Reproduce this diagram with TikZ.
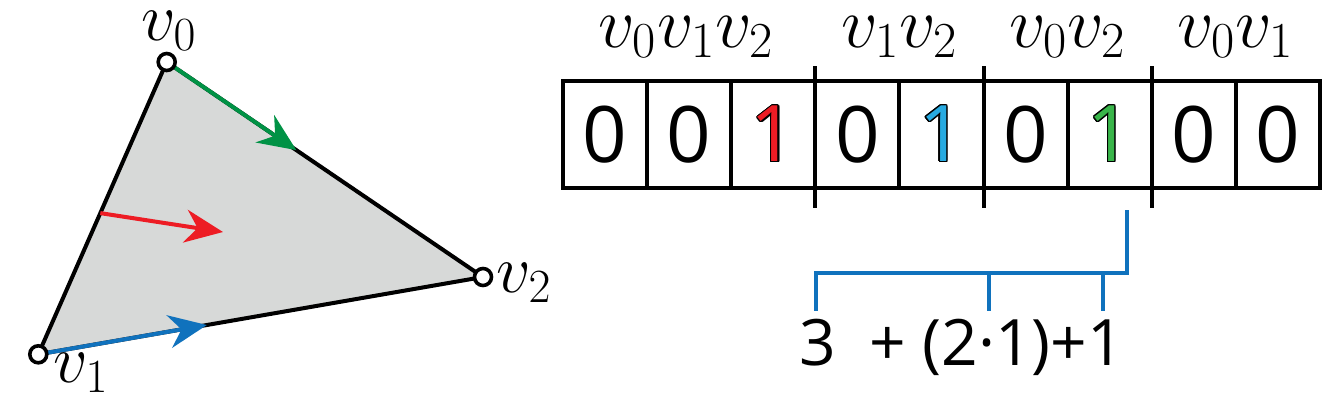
\RequirePackage{fix-cm}
\documentclass[tikz,border=0pt]{standalone}
\usepackage{fontspec}
\setsansfont{Open Sans}
\usepackage{contour}
\usetikzlibrary{arrows.meta, calc}

\definecolor{triGrey}{RGB}{215,217,216}
\definecolor{arrGreen}{RGB}{0,146,69}
\definecolor{arrBlue}{RGB}{16,114,189}
\definecolor{arrRed}{RGB}{237,28,36}
\definecolor{bitRed}{RGB}{237,28,36}
\definecolor{bitBlue}{RGB}{39,170,225}
\definecolor{bitGreen}{RGB}{57,181,74}
\contourlength{0.6pt}
\newcommand{\setbit}[1]{\textcolor{#1}{\contour{black}{1}}}

\begin{document}
\begin{tikzpicture}[x=0.5pt, y=-0.5pt,
    vertex/.style={circle, draw, fill=white, line width=1.8pt, minimum size=8.5pt, inner sep=0pt},
    edge/.style={line width=2pt},
    dirarrow/.style={line width=2pt, -{Stealth[length=19pt, width=16.5pt]}},
    vlabel/.style={anchor=base, inner sep=0pt, font=\fontsize{34}{40}\selectfont},
    glabel/.style={anchor=base, inner sep=0pt, font=\fontsize{36}{43}\selectfont},
    bitbox/.style={draw, line width=2pt, minimum width=42.05pt, minimum height=53.65pt,
        inner sep=0pt, outer sep=0pt, font=\sffamily\fontsize{39}{45}\selectfont},
    bracket/.style={line width=1.8pt, draw=arrBlue}]
    \useasboundingbox (0,0) rectangle (1323,403);

    % triangle
    \coordinate (p0) at (166.7,62);
    \coordinate (p1) at (38.3,354.3);
    \coordinate (p2) at (483,277);
    \fill[triGrey] (p0) -- (p1) -- (p2) -- cycle;
    \draw[edge] (p0) -- (p1) -- (p2) -- cycle;
    \coordinate (rt) at (223,232);
    \draw[dirarrow, arrGreen] (p0) -- ($(p0)!0.41!(p2)$);
    \draw[dirarrow, arrBlue] (p1) -- ($(p1)!0.379!(p2)$);
    \draw[dirarrow, arrRed] ($(p0)!0.517!(p1)$) -- (rt);
    \node[vertex] (v0) at (p0) {};
    \node[vertex] (v1) at (p1) {};
    \node[vertex] (v2) at (p2) {};
    \node[vlabel] (l0) at (169,40) {$v_0$};
    \node[vlabel] (l1) at (81,382) {$v_1$};
    \node[vlabel] (l2) at (524,292) {$v_2$};

    % bit field
    \foreach \d [count=\i] in {0,0,\setbit{bitRed},0,\setbit{bitBlue},0,\setbit{bitGreen},0,0}
        \node[bitbox] (b\i) at ({563+84.1*(\i-0.5)},134.4) {\d};
    \foreach \k in {3,5,7}
        \draw[edge] ([yshift=7.35pt]b\k.north east) -- ([yshift=-10pt]b\k.south east);
    \node[glabel] (g1) at ($(b1.north west)!0.5!(b3.north east)+(-3,-33.7)$) {$v_0v_1v_2$};
    \node[glabel] (g2) at ($(b4.north west)!0.5!(b5.north east)+(0,-33.7)$) {$v_1v_2$};
    \node[glabel] (g3) at ($(b6.north west)!0.5!(b7.north east)+(0,-33.7)$) {$v_0v_2$};
    \node[glabel] (g4) at ($(b8.north west)!0.5!(b9.north east)+(0,-33.7)$) {$v_0v_1$};

    % index sum
    \coordinate (bt) at (1127,210);
    \coordinate (ba) at (816,273);
    \draw[bracket] (bt) |- (ba) -- (816,311);
    \draw[bracket] (989,273) -- (989,311);
    \draw[bracket] (1103,273) -- (1103,311);
    \node[anchor=base west, inner sep=0pt, font=\sffamily\fontsize{32}{38}\selectfont] (sum) at (799,365) {3\ \ + (2·1)+1};
\end{tikzpicture}
\end{document}
